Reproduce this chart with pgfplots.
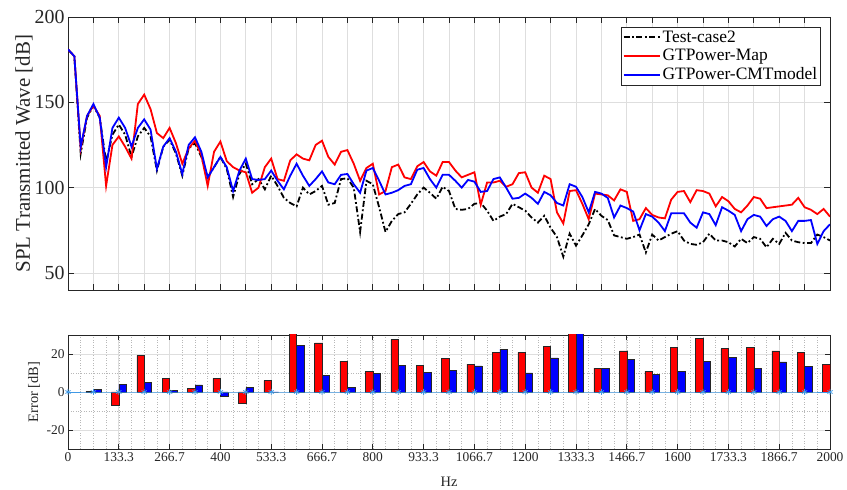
\documentclass[border=0pt]{standalone}
\usepackage{fontspec}
\setmainfont{Liberation Serif}
\usepackage{pgfplots}
\pgfplotsset{compat=1.18}
\usepackage{pgfplotstable}
\definecolor{axgray}{RGB}{38,38,38}
\definecolor{gridgray}{RGB}{222,222,222}
\definecolor{mblue}{rgb}{0.25,0.6,0.9}

\pgfplotstableread{
f k r b
0 181 181 181
16.667 177 177 177
33.333 120 123 124
50 141 142 142
66.667 148 148 149
83.333 141 142 141
100 115 101 112
116.667 131 125 135
133.333 137 130 141
150 131 124 135
166.667 118 117 124
183.333 130 149 135
200 135 154.5 140
216.667 130 146 134
233.333 110 132 111
250 124 129 124
266.667 128 135 129
283.333 120 126 121
300 107 114 108
316.667 123 123 125
333.333 126 127.5 129.5
350 118 119 121
366.667 106 101 106
383.333 112 121 112
400 118 127 118
416.667 111 115.5 112
433.333 94.5 112 98
450 108 110 110
466.667 114 109 117
483.333 102 97 105
500 105 100 104.5
516.667 99 112 105
533.333 107 117 110
550 101 105 104
566.667 94 104 99
583.333 91 116 107
600 89 119.5 114
616.667 100 117 107
633.333 96 116 101
650 98 125 105
666.667 101 127.5 109.5
683.333 90 118 103
700 91 113.5 102
716.667 105 121 107.5
733.333 105.5 122 108
750 100 114 102
766.667 74 104 97
783.333 104 111.5 110
800 102 114 111.5
816.667 88.5 96 104
833.333 74 98 96
850 80.5 112 97
866.667 84.5 113.5 98.5
883.333 85.5 106 101
900 90.5 105 102
916.667 96 112.5 110.5
933.333 100 115 111.5
950 97 109.5 105
966.667 93.5 107 100
983.333 100.5 115 107.5
1000 98 115 107.5
1016.667 87.5 110 104
1033.333 87 106 100
1050 87.5 107.5 104.5
1066.667 90.5 109 103.5
1083.333 91 90 97.5
1100 86.5 103 98
1116.667 80.5 103 105
1133.333 83 104 106
1150 84.5 100.5 100
1166.667 90.5 102 93.5
1183.333 88.5 108.5 94
1200 86.5 109 96.5
1216.667 82.5 100 94
1233.333 79.5 97 90.5
1250 83.5 107 97.5
1266.667 76.5 105 95.5
1283.333 71 85.5 91
1300 59.5 79 89.5
1316.667 73 98 102
1333.333 66 98.5 100.5
1350 72 90.5 94.5
1366.667 78.5 81.5 85.5
1383.333 87.5 96.5 97.5
1400 83.5 96 96.5
1416.667 81 95.5 94
1433.333 72 92.5 82.5
1450 71 99 89.5
1466.667 70 97.5 88
1483.333 71 80.5 86
1500 72.5 81.5 75
1516.667 62 88 84.5
1533.333 72.5 84 83
1550 69 82.5 79.5
1566.667 71 82 74.5
1583.333 73 93 85
1600 74.5 97.5 85
1616.667 69 98 85
1633.333 67 91.5 79.5
1650 66.5 98.5 76.5
1666.667 68 98 85.5
1683.333 73 96.5 84.5
1700 69 89 78
1716.667 69 94.5 88.5
1733.333 68 92 86.5
1750 65.5 87.5 84
1766.667 70 85.5 74.5
1783.333 67.5 89.5 81.5
1800 71 94.5 84
1816.667 70 93.5 83
1833.333 65 88 77.5
1850 70 88.5 81.5
1866.667 67 89 83
1883.333 73.5 89.5 80.5
1900 69 90 74.5
1916.667 68 94 80.5
1933.333 67.5 88.5 80.5
1950 67.5 87 81
1966.667 72.5 84.5 67
1983.333 71 87.5 74.5
2000 69 83 78.5
}\toptable

\pgfplotstableread{
f r b
66.667 0.3 1.2
133.333 -7 4.2
200 19.3 5.1
266.667 7 0.7
333.333 1.8 3.7
400 7.2 -2.3
466.667 -6 2.3
533.333 6 0
600 35 24.4
666.667 25.8 8.9
733.333 16.3 2.6
800 10.9 9.8
866.667 27.5 14
933.333 14 10.4
1000 17.5 11.2
1066.667 14.7 13.7
1133.333 20.7 22.5
1200 20.9 10
1266.667 23.9 18
1333.333 35 35
1400 12.6 12.6
1466.667 21.6 17.2
1533.333 10.9 9.1
1600 23.3 10.9
1666.667 28.4 16
1733.333 22.8 18.2
1800 23.3 12.6
1866.667 21.6 15.8
1933.333 20.7 13.5
2000 14.6 0
}\bottable

\begin{document}
\begin{tikzpicture}
\useasboundingbox (0,0) rectangle (847bp,490bp);
\begin{axis}[
  at={(68bp,473bp)}, anchor=north west,
  width=762bp, height=273bp, scale only axis,
  xmin=0, xmax=2000, ymin=40, ymax=200,
  xtick={0,66.667,133.333,200,266.667,333.333,400,466.667,533.333,600,666.667,733.333,800,866.667,933.333,1000,1066.667,1133.333,1200,1266.667,1333.333,1400,1466.667,1533.333,1600,1666.667,1733.333,1800,1866.667,1933.333,2000},
  xticklabels={},
  ytick={50,100,150,200},
  grid=major, grid style={gridgray, line width=0.7bp},
  axis line style={axgray, line width=0.7bp},
  tick style={axgray, line width=0.7bp}, major tick length=6bp,
  /pgf/number format/assume math mode=true,
  tick label style={font=\fontsize{20}{24}\selectfont, text=axgray},
  ylabel={SPL Transmitted Wave [dB]},
  y label style={at={(axis description cs:-0.0577,0.5)}, anchor=center, font=\fontsize{21}{25}\selectfont, text=axgray},
  legend style={at={(1,1)}, anchor=north east, xshift=-9bp, yshift=-10bp, draw=axgray, line width=0.7bp, font=\fontsize{17.5}{20}\selectfont, inner sep=1.5bp, row sep=1.5bp},
  legend cell align=left,
  legend image code/.code={\draw[#1] (0bp,0bp) -- (36bp,0bp);},
]
\addplot[black, line width=1.8bp, dash pattern=on 6bp off 2.5bp on 1.8bp off 2.5bp] table[x=f,y=k]{\toptable};
\addlegendentry{Test-case2}
\addplot[red, line width=1.8bp] table[x=f,y=r]{\toptable};
\addlegendentry{GTPower-Map}
\addplot[blue, line width=1.8bp] table[x=f,y=b]{\toptable};
\addlegendentry{GTPower-CMTmodel}
\end{axis}

\begin{axis}[
  at={(68bp,155bp)}, anchor=north west,
  width=762bp, height=114bp, scale only axis,
  xmin=0, xmax=2000, ymin=-30, ymax=30,
  xtick={0,133.333,266.667,400,533.333,666.667,800,933.333,1066.667,1200,1333.333,1466.667,1600,1733.333,1866.667,2000},
  xticklabels={0,133.3,266.7,400,533.3,666.7,800,933.3,1066.7,1200,1333.3,1466.7,1600,1733.3,1866.7,2000},
  minor xtick={0,33.3333,...,2000},
  ytick={-20,0,20},
  minor ytick={-30,-10,10,30}, minor tick length=0pt,
  grid=both, major grid style={gridgray, line width=0.7bp},
  minor grid style={black!28, line width=0.6bp, dotted},
  axis line style={axgray, line width=0.7bp},
  tick style={axgray, line width=0.7bp}, major tick length=5bp,
  /pgf/number format/assume math mode=true,
  tick label style={font=\fontsize{13.5}{16}\selectfont, text=axgray},
  ylabel={Error [dB]}, xlabel={Hz},
  y label style={at={(axis description cs:-0.0446,0.5)}, anchor=center, font=\fontsize{14.5}{17}\selectfont, text=axgray},
  x label style={at={(axis description cs:0.5,-0.287)}, anchor=center, font=\fontsize{14.5}{17}\selectfont, text=axgray},
]
\addplot[ybar, bar width=19.5, bar shift=-9.75, fill=red, draw=axgray, line width=0.5bp] table[x=f,y=r]{\bottable};
\addplot[ybar, bar width=19.5, bar shift=9.75, fill=blue, draw=axgray, line width=0.5bp] table[x=f,y=b]{\bottable};
\addplot[mblue, line width=0.5bp, mark=asterisk, mark size=3bp, mark options={line width=0.8bp}] coordinates {(0,0) (66.667,0) (133.333,0) (200,0) (266.667,0) (333.333,0) (400,0) (466.667,0) (533.333,0) (600,0) (666.667,0) (733.333,0) (800,0) (866.667,0) (933.333,0) (1000,0) (1066.667,0) (1133.333,0) (1200,0) (1266.667,0) (1333.333,0) (1400,0) (1466.667,0) (1533.333,0) (1600,0) (1666.667,0) (1733.333,0) (1800,0) (1866.667,0) (1933.333,0) (2000,0)};
\end{axis}
\end{tikzpicture}
\end{document}
